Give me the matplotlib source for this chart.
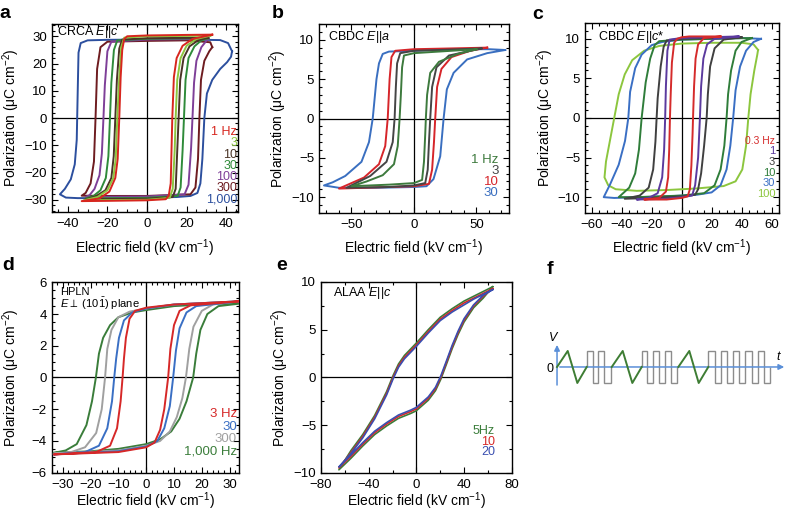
import matplotlib
matplotlib.use("Agg")
import matplotlib.pyplot as plt
from matplotlib.ticker import MultipleLocator

plt.rcParams['font.family'] = ['Liberation Sans', 'DejaVu Sans']
plt.rcParams['mathtext.fontset'] = 'custom'
plt.rcParams['mathtext.rm'] = 'Liberation Sans'
plt.rcParams['mathtext.it'] = 'Liberation Sans:italic'
plt.rcParams['mathtext.bf'] = 'Liberation Sans:bold'

# ---------------- panel a : CRCA E||c ----------------
a_labels = ['1 Hz', '3', '10', '30', '100', '300', '1,000']
a_colors = ['#d7261e', '#8cc63e', '#4a3426', '#2f8b3a', '#7e3f98', '#6e1c20', '#2c4f9e']

a_E_1 = [33, 20, 0, -10, -11.5, -12.5, -13.3, -14, -14.8, -16, -19, -24, -33,
         -20, 0, 9.5, 11, 12, 12.8, 13.6, 15, 18, 23, 33]
a_P_1 = [30.6, 30.5, 30.3, 30.0, 29.0, 25.0, 15.0, 0, -15, -22, -27, -29.5, -30.5,
         -30.4, -30.2, -29.8, -28.5, -24, 0, 15, 22, 26.5, 29, 30.6]
a_E_3 = [32, 0, -11.5, -13, -14, -15, -15.8, -17, -20, -25, -32,
         0, 11.5, 13, 14, 14.5, 15.3, 17, 20, 25, 32]
a_P_3 = [30.2, 30.0, 29.5, 26, 15, 0, -15, -22, -26.5, -29, -30.2,
         -30.0, -29.3, -26, -12, 0, 14, 22, 26.5, 29, 30.2]
a_E_10 = [31, 0, -12.5, -14, -15.2, -16, -16.8, -18, -21, -26, -31,
          0, 13, 14.5, 15.3, 16, 16.8, 18.5, 21.5, 26, 31]
a_P_10 = [29.5, 29.3, 28.8, 25.5, 14, 0, -14, -22, -26.5, -28.8, -29.8,
          -29.6, -29, -26, -12, 0, 14, 22, 26.3, 28.6, 29.5]
a_E_30 = [31, 0, -15, -16.7, -18, -18.7, -19.5, -20.8, -23.5, -27, -31,
          0, 15.5, 17, 18, 18.7, 19.5, 21, 24, 27.5, 31]
a_P_30 = [29.3, 29.1, 28.5, 25, 13, 0, -14, -22, -26.5, -28.6, -29.5,
          -29.3, -28.6, -25.5, -12, 0, 14, 22, 26.3, 28.5, 29.3]
a_E_100 = [31, 0, -18, -20, -21.3, -22, -22.8, -24, -26.5, -29, -31,
           0, 19, 21, 22.3, 23, 23.8, 25, 27.5, 30, 31]
a_P_100 = [29.0, 28.8, 28.0, 24.5, 12, 0, -13, -21, -26, -28.3, -29,
           -28.8, -28, -24.5, -11, 0, 13, 21, 26, 28.3, 29]
a_E_300 = [33, 32, 20, 0, -20, -23.5, -25.2, -26, -26.8, -28.5, -31, -33,
           -20, 0, 22, 24.5, 25.8, 26.5, 27.3, 29, 31.5, 33]
a_P_300 = [26, 27.8, 28.5, 28.3, 28.0, 26, 18, 0, -16, -24, -27.5, -28.5,
           -28.6, -28.6, -28, -25.5, -15, 0, 14, 21, 24.5, 26]
a_E_1000 = [43, 41, 37, 20, 0, -20, -30, -33.5, -34.6, -35, -35.5, -36.5, -38.5, -41.5, -44,
            -41, -35, -20, 0, 15, 22, 25.5, 27, 28, 29, 30.3, 33, 37, 40.5, 42.5, 43]
a_P_1000 = [24.5, 27.5, 28.6, 28.8, 28.8, 28.7, 28.5, 27.5, 24, 10, -8, -17, -22.5, -26, -28,
            -29.2, -29.4, -29.4, -29.2, -29, -28.6, -27.5, -24, -15, 0, 9, 14, 18, 20.5, 22.5, 24.5]
a_E = [a_E_1, a_E_3, a_E_10, a_E_30, a_E_100, a_E_300, a_E_1000]
a_P = [a_P_1, a_P_3, a_P_10, a_P_30, a_P_100, a_P_300, a_P_1000]

# ---------------- panel b : CBDC E||a ----------------
b_labels = ['1 Hz', '3', '10', '30']
b_colors = ['#3d7a3d', '#454545', '#d6252a', '#3a6fc0']
b_E_1 = [50, 20, 0, -8, -9.5, -10.5, -11.5, -13, -16, -25, -38, -50,
         -20, 0, 6.5, 8, 9, 9.5, 10.5, 13, 20, 35, 50]
b_P_1 = [8.8, 8.5, 8.3, 8.0, 6.5, 3, 0, -3.5, -5.8, -7.2, -8.0, -8.6,
         -8.4, -8.2, -7.8, -5.5, -2, 0, 3, 5.8, 7.2, 8.2, 8.8]
b_E_3 = [54, 20, 0, -11, -13.5, -14.5, -15.5, -17, -22, -35, -54,
         -20, 0, 9, 11, 12, 13, 14.5, 18, 28, 54]
b_P_3 = [8.9, 8.7, 8.6, 8.3, 7, 4, 0, -3, -5.5, -7.3, -8.8,
         -8.7, -8.5, -8.2, -6.5, -3, 0, 4, 6.5, 8.0, 8.9]
b_E_10 = [58.6, 30, 0, -15, -18, -19.5, -21, -23, -28, -40, -60,
          -40, 0, 12, 14.5, 16, 17, 18.5, 22, 30, 45, 58.6]
b_P_10 = [9.0, 8.9, 8.8, 8.6, 7.8, 5, 0, -3.5, -5.8, -7.5, -8.9,
          -8.8, -8.6, -8.3, -6.5, -3, 0, 4, 6.3, 7.8, 8.6, 9.0]
b_E_30 = [73, 60, 40, 0, -20, -25, -28, -30, -33, -36, -42, -55, -65, -72,
          -60, -30, 0, 10, 15.6, 21, 23.7, 26.3, 31.7, 42.5, 58.6, 73]
b_P_30 = [8.7, 8.8, 8.8, 8.6, 8.5, 8.2, 7, 5, 0, -3, -5.5, -7.3, -8.1, -8.5,
          -8.8, -8.8, -8.7, -8.6, -7.7, -4.8, 0, 3.7, 5.8, 7.5, 8.3, 8.7]
b_E = [b_E_1, b_E_3, b_E_10, b_E_30]
b_P = [b_P_1, b_P_3, b_P_10, b_P_30]

# ---------------- panel c : CBDC E||c* ----------------
c_labels = ['0.3 Hz', '1', '3', '10', '30', '100']
c_colors = ['#d52b2b', '#5b3a9e', '#404040', '#2f7d3a', '#3a6fc4', '#8cc63e']
c_E_03 = [26, 5, 0, -3, -5, -6.5, -7.3, -7.8, -8.3, -9, -10.5, -15, -25,
          -10, 0, 4, 5.5, 6.5, 7.3, 7.6, 8.3, 9.3, 11, 15, 26]
c_P_03 = [10.3, 10.3, 10.2, 10.0, 9.5, 7, 3, 0, -4, -7.5, -9.3, -10.1, -10.3,
          -10.3, -10.1, -9.9, -9, -6, -2, 0, 4, 7.5, 9.3, 10.1, 10.3]
c_E_1 = [38, 0, -8, -9.5, -10.5, -11, -11.7, -13, -16, -22, -30,
         -10, 0, 7, 9, 11, 12.2, 13, 14.5, 17, 22, 38]
c_P_1 = [10.3, 10.1, 9.9, 8.5, 4, 0, -4, -7.5, -9.5, -10.1, -10.3,
         -10.2, -10.0, -9.8, -8.5, -5, 0, 4, 7.5, 9.3, 10.0, 10.3]
c_E_3 = [40, 0, -10, -12, -14, -16, -16.7, -17.5, -19, -22, -28, -38,
         -20, 0, 9, 11, 13, 15, 16.7, 17.5, 19, 22, 28, 40]
c_P_3 = [10.2, 10.0, 9.8, 9, 6.5, 2.5, 0, -3, -6.5, -8.8, -9.8, -10.2,
         -10.1, -9.9, -9.7, -9, -7, -3.5, 0, 3, 6.5, 8.8, 9.9, 10.2]
c_E_10 = [47, 20, 0, -15, -18, -21, -24, -26.7, -28.5, -31, -35, -42,
          -30, 0, 15, 22, 26, 28.5, 30, 31, 33, 36, 40, 47]
c_P_10 = [10.1, 10.0, 9.9, 9.7, 9.2, 7.5, 4.5, 0, -4, -7, -8.8, -10,
          -10.0, -9.8, -9.5, -8.5, -6.5, -3.5, 0, 3, 6, 8.5, 9.6, 10.1]
c_E_30 = [53, 40, 20, 0, -13, -20, -26.7, -31, -34.4, -35.6, -37.8, -42, -47.8, -52,
          -45, -30, -10, 10, 20, 26, 30, 32.5, 34.4, 36, 39, 43, 48, 53]
c_P_30 = [10.0, 10.1, 10.0, 9.9, 9.6, 9.2, 8, 6.3, 3.3, 0, -2.9, -5.9, -8.4, -10,
          -10.1, -10.0, -9.9, -9.7, -9.4, -8.5, -6.5, -3.5, 0, 3.5, 6.5, 8.5, 9.6, 10.0]
c_E_100 = [51, 48, 40, 20, 0, -15, -25, -33, -38, -42, -45, -48, -50.5, -51.5,
           -49, -44, -30, -10, 10, 28, 36, 40.5, 43, 44.5, 46, 48.5, 50.5, 51]
c_P_100 = [8.6, 9.3, 9.5, 9.5, 9.4, 9.1, 8.5, 7.3, 5.5, 3, 0, -3, -5.5, -7.5,
           -8.5, -9.0, -9.2, -9.1, -8.9, -8.6, -8.0, -6.5, -3.5, 0, 3, 6, 8.0, 8.6]
c_E = [c_E_03, c_E_1, c_E_3, c_E_10, c_E_30, c_E_100]
c_P = [c_P_03, c_P_1, c_P_3, c_P_10, c_P_30, c_P_100]

# ---------------- panel d : HPLN ----------------
d_labels = ['3 Hz', '30', '300', '1,000 Hz']
d_colors = ['#d62828', '#3a6fc4', '#a0a0a0', '#3a7d3a']
d_E_3 = [33.3, 10, 0, -4, -6, -7.3, -8.0, -8.5, -9.2, -10.5, -13, -18, -33.3,
         -10, 0, 3, 5, 6.5, 7.9, 8.7, 10, 12, 16, 33.3]
d_P_3 = [4.8, 4.6, 4.4, 4.2, 3.7, 2.5, 1.2, 0, -1.5, -3.2, -4.3, -4.7, -4.85,
         -4.7, -4.4, -4.1, -3.3, -2, 0, 1.8, 3.3, 4.2, 4.55, 4.8]
d_E_30 = [33.3, 10, 0, -5, -8, -9.8, -10.8, -11.5, -12.3, -14, -17, -22, -33.3,
          -10, 0, 4, 6.5, 8.5, 9.7, 10.7, 12, 14.5, 18, 33.3]
d_P_30 = [4.8, 4.6, 4.35, 4.1, 3.6, 2.5, 1.2, 0, -1.5, -3.2, -4.3, -4.7, -4.85,
          -4.65, -4.35, -4.0, -3.2, -1.8, 0, 1.7, 3.1, 4.1, 4.5, 4.8]
d_E_300 = [33.3, 10, 0, -6, -10, -12.5, -14, -14.8, -16, -18, -22, -27, -33.3,
           -10, 0, 5, 8.5, 11, 13, 14.3, 15.5, 17, 20, 24, 33.3]
d_P_300 = [4.8, 4.6, 4.35, 4.15, 3.8, 3.0, 1.8, 0, -2, -3.5, -4.4, -4.7, -4.8,
           -4.6, -4.3, -4.0, -3.4, -2.5, -1.3, 0, 1.8, 3.2, 4.2, 4.6, 4.8]
d_E_1000 = [33.3, 20, 10, 0, -5, -10, -13, -15.5, -17, -18.1, -19.5, -21.5, -25, -29, -33.3,
            -20, -10, 0, 5, 9, 12, 14.5, 16.9, 18, 19.5, 22, 26, 33.3]
d_P_1000 = [4.7, 4.6, 4.5, 4.25, 4.1, 3.8, 3.3, 2.5, 1.5, 0, -1.5, -3, -4.2, -4.6, -4.75,
            -4.65, -4.5, -4.2, -3.9, -3.4, -2.6, -1.5, 0, 1.5, 3, 4.0, 4.5, 4.65]
d_E = [d_E_3, d_E_30, d_E_300, d_E_1000]
d_P = [d_P_3, d_P_30, d_P_300, d_P_1000]

# ---------------- panel e : ALAA E||c ----------------
e_labels = ['5Hz', '10', '20']
e_colors = ['#3a7d3a', '#d62828', '#3a4fb0']
e_E = [64, 56, 48, 40, 30, 20, 10, 0, -10, -15, -19.5, -25, -35, -45, -55, -65,
       -55, -45, -35, -25, -15, -5, 0, 10, 16, 20.5, 25, 30, 35, 40, 48, 56, 64]
e_P_5 = [9.5, 9.0, 8.5, 8.0, 7.2, 6.3, 5.0, 3.6, 2.3, 1.4, 0.2, -1.5, -4.0, -6.0, -7.7, -9.7,
         -8.5, -7.2, -6.0, -5.1, -4.3, -3.8, -3.5, -2.4, -1.4, -0.2, 1.3, 3.0, 4.5, 5.8, 7.3, 8.3, 9.5]
e_P_10 = [9.3, 8.8, 8.3, 7.8, 7.0, 6.1, 4.8, 3.4, 2.1, 1.2, 0, -1.7, -4.2, -6.2, -7.9, -9.5,
          -8.3, -7.0, -5.8, -4.9, -4.1, -3.6, -3.3, -2.2, -1.2, 0, 1.5, 3.2, 4.7, 6.0, 7.5, 8.5, 9.3]
e_P_20 = [9.2, 8.7, 8.2, 7.6, 6.85, 5.95, 4.65, 3.25, 1.95, 1.05, -0.15, -1.85, -4.35, -6.35, -8.0, -9.4,
          -8.15, -6.85, -5.65, -4.75, -3.95, -3.45, -3.15, -2.05, -1.05, 0.15, 1.65, 3.35, 4.85, 6.15, 7.6, 8.6, 9.2]
e_P = [e_P_5, e_P_10, e_P_20]

# ---------------- panel f : waveform ----------------
f_tri_t = [[0.0, 1.07, 2.03, 2.97], [5.47, 6.57, 7.53, 8.47], [12.13, 13.23, 14.17, 15.13]]
f_tri_v = [0, 1, -1, 0]
f_sq_edges = [[2.97, 3.57, 4.13, 4.73, 5.40],
              [8.47, 9.03, 9.63, 10.2, 10.8, 11.37, 11.97],
              [15.13, 15.75, 16.37, 16.98, 17.6, 18.22, 18.83, 19.45, 20.07, 20.68, 21.3]]
f_sq_levels = [[1, -1, 1, -1],
               [1, -1, 1, -1, 1, -1],
               [1, -1, 1, -1, 1, -1, 1, -1, 1, -1]]


def style(ax, xlim, ylim, xmaj, xmin, ymaj, ymin, xlab_y, ylab_x):
    ax.set_xlim(xlim)
    ax.set_ylim(ylim)
    ax.xaxis.set_major_locator(MultipleLocator(xmaj))
    ax.xaxis.set_minor_locator(MultipleLocator(xmin))
    ax.yaxis.set_major_locator(MultipleLocator(ymaj))
    ax.yaxis.set_minor_locator(MultipleLocator(ymin))
    ax.tick_params(which='both', direction='in', top=True, right=True, width=0.8)
    ax.tick_params(which='major', length=4, labelsize=9.5)
    ax.tick_params(axis='x', which='major', pad=4.5)
    ax.tick_params(axis='y', which='major', pad=3.5)
    ax.tick_params(which='minor', length=2)
    for s in ax.spines.values():
        s.set_linewidth(1.0)
    ax.axhline(0, color='k', lw=0.9, zorder=1)
    ax.axvline(0, color='k', lw=0.9, zorder=1)
    ax.set_xlabel('Electric field (kV cm$^{-1}$)', fontsize=10)
    ax.set_ylabel('Polarization (\u03bcC cm$^{-2}$)', fontsize=10)
    ax.xaxis.set_label_coords(0.5, xlab_y)
    ax.yaxis.set_label_coords(ylab_x, 0.5)


def legend(ax, labels, colors, x, y0, dy, size=9.5, first_size=None):
    for i, (lab, col) in enumerate(zip(labels, colors)):
        fs = first_size if (i == 0 and first_size) else size
        ax.text(x, y0 - i * dy, lab, color=col, fontsize=fs, ha='right', va='center',
                transform=ax.transAxes)


fig = plt.figure(figsize=(7.88, 5.13), dpi=100)

# a
ax = fig.add_axes([0.0660, 0.5867, 0.2360, 0.3665])
for E, P, col in reversed(list(zip(a_E, a_P, a_colors))):
    ax.plot(E, P, color=col, lw=1.4, zorder=3)
style(ax, (-48, 46), (-34.5, 34.5), 20, 5, 10, 2, -0.135, -0.161)
ax.text(0.025, 0.955, 'CRCA $E$||$c$', fontsize=9, transform=ax.transAxes, va='center')
legend(ax, a_labels, a_colors, 0.995, 0.4255, 0.06, size=9)

# b
ax = fig.add_axes([0.4048, 0.5848, 0.2411, 0.3684])
for E, P, col in reversed(list(zip(b_E, b_P, b_colors))):
    ax.plot(E, P, color=col, lw=1.4, zorder=3)
style(ax, (-76, 76), (-12, 12), 50, 10, 5, 1, -0.13, -0.158)
ax.text(0.047, 0.93, 'CBDC $E$||$a$', fontsize=9, transform=ax.transAxes, va='center')
legend(ax, b_labels, b_colors, 0.945, 0.28, 0.058)

# c
ax = fig.add_axes([0.7424, 0.5848, 0.2462, 0.3704])
for E, P, col in reversed(list(zip(c_E, c_P, c_colors))):
    ax.plot(E, P, color=col, lw=1.4, zorder=3)
style(ax, (-64.5, 65), (-12, 12), 20, 5, 5, 1, -0.13, -0.152)
ax.text(0.067, 0.926, 'CBDC $E$||$c$*', fontsize=9, transform=ax.transAxes, va='center')
legend(ax, c_labels, c_colors, 0.98, 0.38, 0.056, size=8, first_size=7.5)

# d
ax = fig.add_axes([0.0656, 0.0786, 0.2381, 0.3711])
for E, P, col in reversed(list(zip(d_E, d_P, d_colors))):
    ax.plot(E, P, color=col, lw=1.4, zorder=3)
style(ax, (-34, 33.5), (-6, 6), 10, 2, 2, 0.5, -0.093, -0.158)
ax.text(0.044, 0.949, 'HPLN', fontsize=8, transform=ax.transAxes, va='center')
ax.text(0.044, 0.886, r'$E\perp$ (10$\bar{1}$) plane', fontsize=8, transform=ax.transAxes, va='center')
legend(ax, d_labels, d_colors, 0.988, 0.308, 0.0656)

# e
ax = fig.add_axes([0.4074, 0.0786, 0.2420, 0.3717])
for P, col in zip(e_P, e_colors):
    ax.plot(e_E, P, color=col, lw=1.2, zorder=3)
style(ax, (-80, 80), (-10, 10), 40, 20, 5, 2.5, -0.093, -0.16)
ax.text(0.063, 0.942, 'ALAA $E$||$c$', fontsize=9, transform=ax.transAxes, va='center')
legend(ax, e_labels, e_colors, 0.912, 0.22, 0.057, size=9)

# f
ax = fig.add_axes([0.6942, 0.2203, 0.3058, 0.1365])
ax.set_xlim(-1.0, 23.1)
ax.set_ylim(-2.06, 2.31)
ax.axis('off')
blue = '#5a8fd8'
ax.annotate('', xy=(23.0, 0), xytext=(0, 0),
            arrowprops=dict(arrowstyle='-|>', color=blue, lw=1.1, mutation_scale=8))
ax.annotate('', xy=(0, 1.55), xytext=(0, -1.3),
            arrowprops=dict(arrowstyle='-|>', color=blue, lw=1.1, mutation_scale=8))
for edges, lev in zip(f_sq_edges, f_sq_levels):
    ax.stairs(lev, edges, baseline=0, fill=False, color='#8c8c8c', lw=1.0, zorder=2)
for t in f_tri_t:
    ax.plot(t, f_tri_v, color='#3e7d34', lw=1.4, zorder=3)
ax.text(-0.4, 1.81, 'V', fontstyle='italic', fontsize=9, ha='center', va='center')
ax.text(-0.7, -0.12, '0', fontsize=9, ha='center', va='center')
ax.text(22.1, 0.62, 't', fontstyle='italic', fontsize=9, ha='center', va='center')

# panel letters
for lab, x, y in [('a', 5, 13), ('b', 278, 13), ('c', 538, 15),
                  ('d', 8, 265), ('e', 282, 265), ('f', 550, 270)]:
    fig.text(x / 788, 1 - y / 513, lab, fontsize=14, fontweight='bold', ha='center', va='center')

fig.savefig('out.png', dpi=100)
